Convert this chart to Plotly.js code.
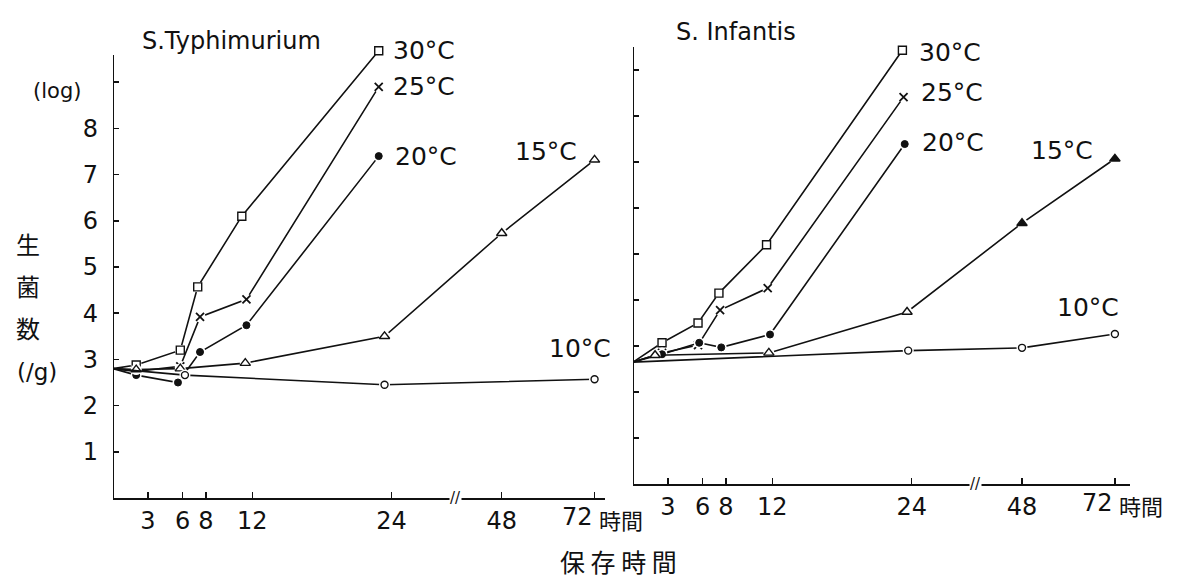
<!DOCTYPE html>
<html><head><meta charset="utf-8">
<script src="https://cdn.plot.ly/plotly-3.0.1.min.js"></script>
<style>html,body{margin:0;padding:0;background:#fff}</style>
</head><body><div id="chart" style="width:1180px;height:583px"></div>
<script>
// ---- data (hours of storage, log count per g) ----
const tickHours = [3, 6, 8, 12, 24, 48, 72];
const tickLabels = ['3', '6', '8', '12', '24', '48', ''];   // 72 drawn with its unit
const lastTickLabel = '72';
const yTickVals = [1, 2, 3, 4, 5, 6, 7, 8, 9];
const yTickText = ['1', '2', '3', '4', '5', '6', '7', '8', ''];
const tempLabels = ['30°C', '25°C', '20°C', '15°C', '10°C'];

// S. Typhimurium
const typh30Hours = [0, 2, 5.8, 7.3, 11.1, 22.9];
const typh30Vals  = [2.8, 2.88, 3.2, 4.57, 6.1, 9.68];
const typh25Hours = [0, 2, 5.8, 7.5, 11.5, 22.9];
const typh25Vals  = [2.8, 2.74, 2.85, 3.92, 4.3, 8.9];
const typh20Hours = [0, 2, 5.6, 7.5, 11.5, 22.9];
const typh20Vals  = [2.8, 2.66, 2.5, 3.16, 3.74, 7.4];
const typh15Hours = [0, 2, 5.8, 11.4, 23.4, 48, 72];
const typh15Vals  = [2.8, 2.78, 2.8, 2.92, 3.5, 5.73, 7.32];
const typh10Hours = [0, 6.2, 23.4, 72];
const typh10Vals  = [2.8, 2.66, 2.45, 2.57];

// S. Infantis
const inf30Hours = [0, 2.5, 5.6, 7.4, 11.5, 23.2];
const inf30Vals  = [2.65, 3.07, 3.5, 4.15, 5.2, 9.43];
const inf25Hours = [0, 2.5, 5.6, 7.5, 11.6, 23.3];
const inf25Vals  = [2.65, 2.85, 3.02, 3.78, 4.26, 8.41];
const inf20Hours = [0, 2.5, 5.7, 7.6, 11.8, 23.4];
const inf20Vals  = [2.65, 2.82, 3.07, 2.97, 3.25, 7.39];
const inf15Hours = [0, 1.9, 11.7, 23.6, 48, 72];
const inf15Vals  = [2.65, 2.8, 2.85, 3.74, 5.67, 7.07];
const inf10Hours = [0, 23.7, 48, 72];
const inf10Vals  = [2.65, 2.9, 2.96, 3.26];

// ---- broken time axis: hours -> axis position ----
const breakHours = [0, 24, 48, 72];
const breakPos   = [0, 24, 33.5, 41.5];
const breakMarkPos = 29.5;
function pos(h) {
  for (let i = 1; i < breakHours.length; i++) {
    if (h <= breakHours[i]) {
      const t = (h - breakHours[i-1]) / (breakHours[i] - breakHours[i-1]);
      return breakPos[i-1] + t * (breakPos[i] - breakPos[i-1]);
    }
  }
  return breakPos[breakPos.length - 1];
}

const INK = '#111';
const FONT = 'DejaVu Sans, Liberation Sans, sans-serif';
const CJK = 'Noto Sans CJK JP, sans-serif';

const styles = [
  {symbol: 'square-open', size: 8, lw: 1.4},
  {symbol: 'x-thin-open', size: 8, lw: 1.8},
  {symbol: 'circle', size: 7, lw: 1},
  {symbol: 'triangle-up-open', size: 9, lw: 1.4},
  {symbol: 'circle-open', size: 7, lw: 1.4}
];

const panels = [
  {xa: 'x', ya: 'y', series: [[typh30Hours, typh30Vals], [typh25Hours, typh25Vals], [typh20Hours, typh20Vals], [typh15Hours, typh15Vals], [typh10Hours, typh10Vals]],
   labelOffsets: [[12, 0, 'left'], [12, 0, 'left'], [14, 0, 'left'], [-16, 8, 'right'], [18, 31, 'right']]},
  {xa: 'x2', ya: 'y2', series: [[inf30Hours, inf30Vals], [inf25Hours, inf25Vals], [inf20Hours, inf20Vals], [inf15Hours, inf15Vals], [inf10Hours, inf10Vals]],
   labelOffsets: [[15, -2, 'left'], [15, 5, 'left'], [15, 2, 'left'], [-20, 8, 'right'], [6, 27, 'right']]}
];

const traces = [];
const annotations = [];
panels.forEach((p, pi) => {
  p.series.forEach((s, si) => {
    const xs = s[0].map(pos), ys = s[1];
    traces.push({x: xs, y: ys, xaxis: p.xa, yaxis: p.ya, mode: 'lines', type: 'scatter',
      line: {color: INK, width: 1.6}, hoverinfo: 'skip', showlegend: false});
    traces.push({x: xs.slice(1), y: ys.slice(1), xaxis: p.xa, yaxis: p.ya, mode: 'markers', type: 'scatter',
      marker: {symbol: 'circle', size: 11, color: '#fff'}, cliponaxis: false, hoverinfo: 'skip', showlegend: false});
    const st = styles[si];
    let sym = st.symbol;
    if (pi === 1 && si === 3) sym = xs.slice(1).map((v, k) => k >= 3 ? 'triangle-up' : 'triangle-up-open');
    traces.push({x: xs.slice(1), y: ys.slice(1), xaxis: p.xa, yaxis: p.ya, mode: 'markers', type: 'scatter',
      name: tempLabels[si], cliponaxis: false, showlegend: false,
      marker: {symbol: sym, size: st.size, color: INK, line: {color: INK, width: st.lw}}});
    const off = p.labelOffsets[si];
    annotations.push({xref: p.xa, yref: p.ya, x: xs[xs.length - 1], y: ys[ys.length - 1],
      text: tempLabels[si], showarrow: false, xanchor: off[2], yanchor: 'middle',
      xshift: off[0], yshift: off[1], font: {family: FONT, size: 25, color: INK}});
  });
  // axis break mark
  annotations.push({xref: p.xa, yref: p.ya, x: breakMarkPos, y: 0, text: '//', showarrow: false,
    bgcolor: '#fff', borderpad: 0, font: {family: FONT, size: 15, color: INK}, yanchor: 'middle'});
  // last tick label and unit
  annotations.push({xref: p.xa, yref: p.ya, x: pos(72), y: 0, text: lastTickLabel, showarrow: false,
    xanchor: 'right', yanchor: 'top', xshift: 0, yshift: -3, font: {family: FONT, size: 24, color: INK}});
  annotations.push({xref: p.xa, yref: p.ya, x: pos(72), y: 0, text: '時間', showarrow: false,
    xanchor: 'left', yanchor: 'top', xshift: 2, yshift: -3, font: {family: CJK, size: 22, color: INK}});
});

// panel titles and axis titles
annotations.push({xref: 'paper', yref: 'paper', x: 140/1180, y: 1 - 41/583, text: 'S.Typhimurium',
  showarrow: false, xanchor: 'left', yanchor: 'middle', font: {family: FONT, size: 24, color: INK}});
annotations.push({xref: 'paper', yref: 'paper', x: 674/1180, y: 1 - 32/583, text: 'S. Infantis',
  showarrow: false, xanchor: 'left', yanchor: 'middle', font: {family: FONT, size: 24, color: INK}});
annotations.push({xref: 'paper', yref: 'paper', x: 57/1180, y: 1 - 91/583, text: '(log)',
  showarrow: false, xanchor: 'center', yanchor: 'middle', font: {family: FONT, size: 21, color: INK}});
[['生', 28, 243], ['菌', 28, 285], ['数', 28, 327]].forEach(c => annotations.push({xref: 'paper', yref: 'paper',
  x: c[1]/1180, y: 1 - c[2]/583, text: c[0], showarrow: false, xanchor: 'center', yanchor: 'middle',
  font: {family: CJK, size: 24, color: INK}}));
annotations.push({xref: 'paper', yref: 'paper', x: 37/1180, y: 1 - 372/583, text: '(/g)',
  showarrow: false, xanchor: 'center', yanchor: 'middle', font: {family: FONT, size: 23, color: INK}});
annotations.push({xref: 'paper', yref: 'paper', x: 618/1180, y: 1 - 561/583, text: '保 存 時 間',
  showarrow: false, xanchor: 'center', yanchor: 'middle', font: {family: CJK, size: 25, color: INK}});

const tickFont = {family: FONT, size: 24, color: INK};
const xCommon = {showgrid: false, zeroline: false, showline: true, linecolor: INK, linewidth: 2,
  ticks: 'inside', ticklen: 6, tickwidth: 1.5, tickcolor: INK,
  tickvals: tickHours.map(pos), ticktext: tickLabels, tickfont: tickFont, fixedrange: true};
const yCommon = {showgrid: false, zeroline: false, showline: false,
  ticks: 'inside', ticklen: 6, tickwidth: 1.5, tickcolor: INK, tickvals: yTickVals, fixedrange: true};

const leftTop = 9.8, rightTop = 9.6;
const layout = {
  width: 1180, height: 583, margin: {l: 0, r: 0, t: 0, b: 0},
  paper_bgcolor: '#fff', plot_bgcolor: 'rgba(0,0,0,0)', showlegend: false,
  xaxis: Object.assign({}, xCommon, {domain: [113/1180, 605/1180], range: [0, 42.4], anchor: 'y'}),
  yaxis: Object.assign({}, yCommon, {domain: [85/583, (85 + leftTop*46.2)/583], range: [0, leftTop], anchor: 'x',
    ticktext: yTickText, tickfont: tickFont, ticklabelstandoff: 14}),
  xaxis2: Object.assign({}, xCommon, {domain: [633/1180, 1130/1180], range: [0, 42.8], anchor: 'y2'}),
  yaxis2: Object.assign({}, yCommon, {domain: [99/583, (99 + rightTop*46)/583], range: [0, rightTop], anchor: 'x2',
    showticklabels: false}),
  shapes: [
    {type: 'line', xref: 'x', yref: 'y', x0: 0, x1: 0, y0: 0, y1: 9.59, line: {color: INK, width: 2}},
    {type: 'line', xref: 'x2', yref: 'y2', x0: 0, x1: 0, y0: 0, y1: 9.5, line: {color: INK, width: 2}}
  ],
  annotations: annotations
};

Plotly.newPlot('chart', traces, layout, {displayModeBar: false, staticPlot: true});
</script>
</body></html>
